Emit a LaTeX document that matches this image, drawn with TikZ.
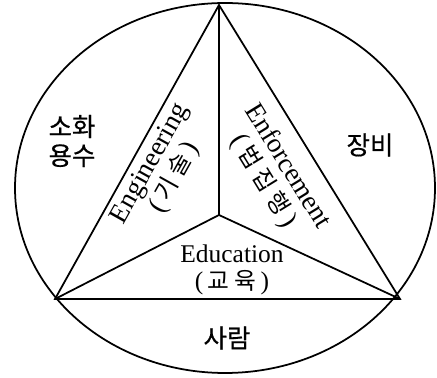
\documentclass[tikz,border=0pt]{standalone}
\usepackage{fontspec}
\setmainfont{Liberation Serif}
\newfontfamily\kr{Noto Sans CJK KR}[FakeBold=0.6]
\newfontfamily\krl{Noto Sans CJK KR}
\newcommand{\kor}[1]{(\,{\krl\fontsize{13.5}{14}\selectfont #1}\,)}
\usetikzlibrary{positioning}

\begin{document}
\begin{tikzpicture}[x=0.02cm,y=-0.02cm,line width=1pt,
  krlabel/.style={font=\kr\fontsize{14.5}{16.5}\selectfont,align=center},
  enlabel/.style={font=\fontsize{14.5}{15}\selectfont,align=center,inner sep=1pt},
  tilted/.style={enlabel,font=\fontsize{15.5}{16}\selectfont}]
\useasboundingbox (0,0) rectangle (437,378);
% outer ring
\draw (225,188) ellipse [x radius=210, y radius=185];
% corners of the triangle and its hub
\coordinate (apex) at (219,5);
\coordinate (left) at (55,299);
\coordinate (right) at (400,299);
\coordinate (hub) at (219,215);
\draw (apex) -- (left) -- (right) -- cycle;
\draw (hub) -- (apex) (hub) -- (left) (hub) -- (right);
% the three E's
\node (eng) [tilted,rotate=60.8] at (163,171) {Engineering\\\kor{기 술}};
\node (enf) [tilted,rotate=-58.4] at (275,174) {Enforcement\\\kor{법 집 행}};
\node (edu) [enlabel] at (232,270) {Education\\\kor{교 육}};
% outer ring labels
\node (water) [krlabel] at (72,141) {소화\\용수};
\node (gear) [krlabel] at (370,145) {장비};
\node (people) [krlabel] at (227,338) {사람};
\end{tikzpicture}
\end{document}
